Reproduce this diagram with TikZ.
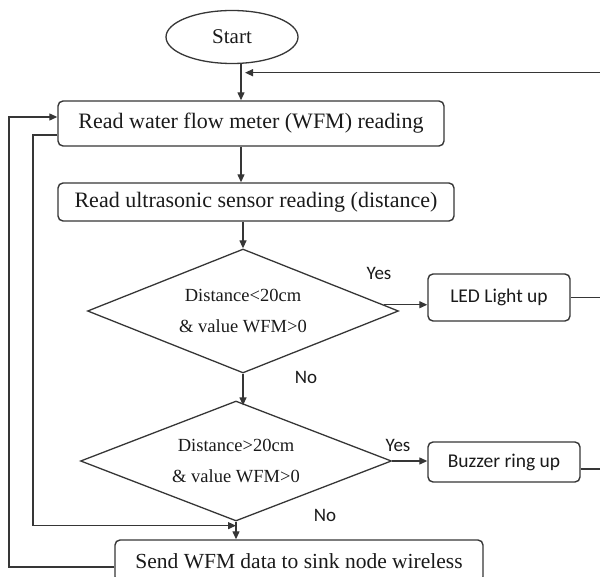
\documentclass[tikz,border=0pt]{standalone}
\usepackage{fontspec}
\setmainfont{Liberation Serif}
\newfontfamily\calib{Carlito}
\usetikzlibrary{arrows.meta,shapes.geometric,calc}
\definecolor{ln}{HTML}{363636}
\definecolor{tx}{HTML}{1A1A1A}
\begin{document}
\begin{tikzpicture}[x=1pt,y=-1pt,
  line/.style={draw=ln, line width=1.3pt},
  arr/.style={line, -{Triangle[length=8pt,width=7pt]}},
  box/.style={draw=ln, line width=1.4pt, rounded corners=5pt, text=tx, inner sep=0pt, font=\fontsize{22}{24}\selectfont},
  cbox/.style={box, font=\calib\fontsize{19.5}{22}\selectfont},
  dia/.style={draw=ln, line width=1.3pt, diamond, aspect=2.5, inner sep=0pt, text=tx, align=center, font=\fontsize{18.5}{31}\selectfont},
  lab/.style={text=tx, inner sep=0pt, font=\calib\fontsize{19}{22}\selectfont}]
\clip (0,0) rectangle (600,577);
% nodes
\node[draw=ln, line width=1.3pt, ellipse, minimum width=132pt, minimum height=53pt, inner sep=0pt, text=tx, font=\fontsize{21}{24}\selectfont] (start) at (232,37) {Start};
\node[box, minimum width=386pt, minimum height=45pt] (wfm) at (251,123.5) {Read water flow meter (WFM) reading\hspace{12pt}};
\node[box, minimum width=396pt, minimum height=38pt] (us) at (256,202) {Read ultrasonic sensor reading (distance)};
\node[dia, minimum width=311pt, minimum height=124pt] (d1) at (243,311) {Distance<20cm\\\& value WFM>0};
\node[dia, minimum width=311pt, minimum height=120pt] (d2) at (236,461) {Distance>20cm\\\& value WFM>0};
\node[cbox, minimum width=142pt, minimum height=47pt] (led) at (499,297.5) {LED Light up};
\node[cbox, minimum width=152pt, minimum height=40pt] (buz) at (504,462) {Buzzer ring up};
\node[box, minimum width=368pt, minimum height=42pt, font=\fontsize{21.5}{24}\selectfont] (send) at (299,561) {Send WFM data to sink node wireless};
% labels
\node[lab] (yes1) at (379,273) {Yes};
\node[lab] (no1) at (306,377) {No};
\node[lab] (yes2) at (398,445) {Yes};
\node[lab] (no2) at (325,515) {No};
% helper coordinates
\coordinate (col) at (241,0);
\coordinate (rt) at (605,72.7);
\coordinate (rb) at (605,469);
\coordinate (loopin) at (245,72.7);
\coordinate (ol) at (9,0);
\coordinate (il) at (33,0);
\coordinate (wo) at ($(wfm.west)+(0,11.5)$);
\coordinate (wi) at ($(wfm.west)+(0,-6.5)$);
\coordinate (so) at ($(send.west)+(0,6)$);
\coordinate (jn) at ($(d2.south)+(0,4)$);
\coordinate (y1) at ($(d1.east)!0.1!(d1.north)$);
\coordinate (bo) at ($(buz.east)+(0,7)$);
% connectors
\draw[arr] (start.south -| col) -- (wfm.north -| col);
\draw[arr] (wfm.south -| col) -- (us.north -| col);
\draw[arr] (us.south -| d1.north) -- (d1.north);
\draw[arr] (d1.south) -- ($(d1.south |- d2.north)+(0,5)$);
\draw[arr] (y1) -- (y1 -| led.west);
\draw[arr] (d2.east) -- (d2.east -| buz.west);
\draw[line] (led.east) -- (led.east -| rt);
\draw[arr] (bo) -- (rb) -- (rt) -- (loopin);
\draw[arr] (d2.south) -- (d2.south |- send.north);
\draw[arr] (wo) -- (wo -| il) -- (il |- jn) -- (jn);
\draw[arr] (so) -- (so -| ol) -- (ol |- wi) -- (wi);
\end{tikzpicture}
\end{document}
